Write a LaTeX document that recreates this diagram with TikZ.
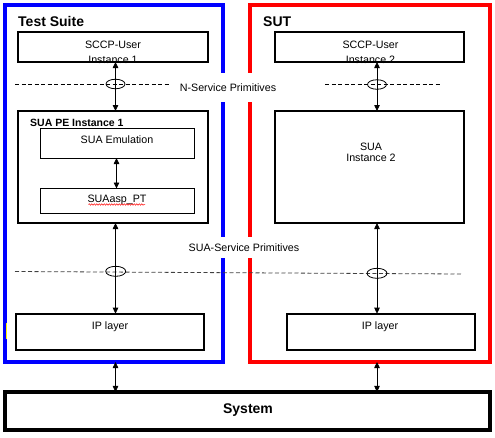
\documentclass[tikz,border=0pt]{standalone}
\usepackage{fontspec}
\setmainfont{Liberation Sans}
\usetikzlibrary{arrows.meta,decorations.pathmorphing}
\tikzset{
  frame/.style={draw, line width=4pt, inner sep=0pt, outer sep=0pt},
  thickbox/.style={draw, line width=2pt, inner sep=0pt, outer sep=0pt},
  thinbox/.style={draw, line width=0.9pt, inner sep=0pt, outer sep=0pt},
  txt/.style={inner sep=0pt, anchor=base, font=\fontsize{10.7}{12}\selectfont},
  btxt/.style={inner sep=0pt, anchor=base west, font=\fontsize{10.5}{12}\selectfont\bfseries},
  title/.style={inner sep=0pt, anchor=base west, font=\fontsize{14}{16}\selectfont\bfseries},
  dbl/.style={line width=0.8pt, {Triangle[length=6pt,width=5.5pt]}-{Triangle[length=6pt,width=5.5pt]}},
  dline/.style={line width=0.8pt, dash pattern=on 4pt off 2.5pt},
  ell/.style={draw, ellipse, line width=0.8pt, minimum width=19pt, minimum height=9.5pt, inner sep=0pt},
  lab/.style={fill=white, inner xsep=3pt, font=\fontsize{10.7}{12}\selectfont}
}
\usetikzlibrary{shapes.geometric}
\begin{document}
\begin{tikzpicture}[x=1pt,y=-1pt]
\useasboundingbox (0,0) rectangle (495,437);
% frames
\node[frame, draw=blue, minimum width=218.5pt, minimum height=357.5pt] (ts) at (113.75,183.25) {};
\node[frame, draw=red, minimum width=240pt, minimum height=357.5pt] (sut) at (370,183.25) {};
\fill[yellow] (6,323) rectangle (7.3,339);
% titles
\node[title] (tst) at (18,26.5) {Test Suite};
\node[title] (sutt) at (263,26.5) {SUT};
% texts under box lines
\node[txt] (t1a) at (113,48) {SCCP-User};
\node[txt] (t1b) at (113,63.5) {Instance 1};
\node[txt] (t2a) at (370.5,48) {SCCP-User};
\node[txt] (t2b) at (370.5,63.5) {Instance 2};
% boxes
\node[thickbox, minimum width=190pt, minimum height=30pt] (sccp1) at (113,47) {};
\node[thickbox, minimum width=189pt, minimum height=30pt] (sccp2) at (369.7,47) {};
\node[thickbox, minimum width=190pt, minimum height=112pt] (suape) at (113,167) {};
\node[thinbox, minimum width=154pt, minimum height=29.5pt] (suaem) at (117.5,143.25) {};
\node[thinbox, minimum width=154pt, minimum height=24.5pt] (suaasp) at (117.5,200.75) {};
\node[thickbox, minimum width=189pt, minimum height=112pt] (sua2) at (369.5,167) {};
\node[thickbox, minimum width=188pt, minimum height=36pt] (ip1) at (110,331.7) {};
\node[thickbox, minimum width=188pt, minimum height=36pt] (ip2) at (381,331.7) {};
\node[frame, minimum width=484.7pt, minimum height=37.7pt] (sys) at (247.7,410.8) {};
% texts in boxes
\node[btxt] (tpe) at (30,126) {SUA PE Instance 1};
\node[txt] (tem) at (117,143.5) {SUA Emulation};
\node[txt] (tasp) at (117,202) {SUAasp\_PT};
\draw[red, line width=0.5pt, decorate, decoration={snake, amplitude=0.7pt, segment length=2.5pt}] (88.5,204.5) -- (145,204.5);
\node[txt] (ts2a) at (371,150) {SUA};
\node[txt] (ts2b) at (371,161.5) {Instance 2};
\node[txt] (tip1) at (110,329) {IP layer};
\node[txt] (tip2) at (380,329) {IP layer};
\node[inner sep=0pt, anchor=base, font=\fontsize{14}{16}\selectfont\bfseries] (tsys) at (248,413) {System};
% labels
\node[lab, minimum height=29pt] (nsp) at (228,87.5) {N-Service Primitives};
\node[lab, minimum height=21pt] (ssp) at (244,247.5) {SUA-Service Primitives};
% axis coordinates
\coordinate (axL) at (115.5,0);
\coordinate (axR) at (377,0);
\coordinate (axM) at (116.5,0);
% dashed lines
\coordinate (d1a) at (15,84);
\coordinate (d1b) at (170,84);
\coordinate (d2a) at (325,84);
\coordinate (d2b) at (440,84);
\coordinate (d3a) at (15,271.5);
\coordinate (d3b) at (461.7,274);
\draw[dline] (d1a) -- (d1b);
\draw[dline] (d2a) -- (d2b);
\draw[dline, black!75] (d3a) -- (d3b);
\node[ell] (e1) at (115.5,84) {};
\node[ell] (e2) at (377,84.5) {};
\node[ell, minimum width=20pt, minimum height=10pt] (e3) at (115.7,271.3) {};
\node[ell, minimum width=20pt, minimum height=10pt] (e4) at (377,273.3) {};
% arrows
\draw[dbl] (sccp1.south -| axL) -- (suape.north -| axL);
\draw[dbl] (sccp2.south -| axR) -- (sua2.north -| axR);
\draw[dbl] (suaem.south -| axM) -- (suaasp.north -| axM);
\draw[dbl] (suape.south -| axL) -- (ip1.north -| axL);
\draw[dbl] (sua2.south -| axR) -- (ip2.north -| axR);
\draw[dbl] (ts.south -| axL) -- (sys.north -| axL);
\draw[dbl] (sut.south -| axR) -- (sys.north -| axR);
\end{tikzpicture}
\end{document}
